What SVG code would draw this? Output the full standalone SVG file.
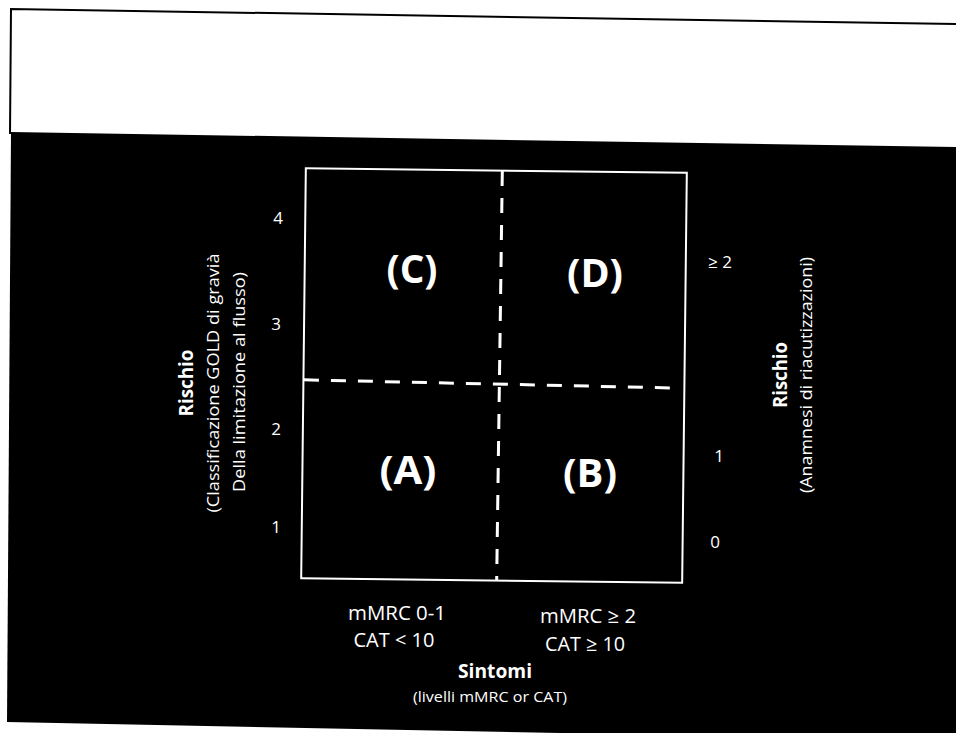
<svg xmlns="http://www.w3.org/2000/svg" width="956" height="733" viewBox="0 0 956 733">
<style>
.t{font-family:"Open Sans","Liberation Sans",sans-serif;fill:#fff}
.b{font-weight:bold}
.dash{stroke:#fff;stroke-width:3;fill:none;stroke-dasharray:15 12}
</style>
<rect width="956" height="733" fill="#fff"/>
<g id="page">
<polyline points="956,24 11,9 10,134" fill="none" stroke="#000" stroke-width="2"/>
<polygon points="11,132 956,147 956,733 560,733 7,722" fill="#000"/>
</g>
<g id="grid" transform="rotate(0.65 494 375.5)">
<rect id="box" x="303.5" y="170.5" width="381" height="410" fill="none" stroke="#fff" stroke-width="2"/>
<g id="connectors">
<line class="dash" x1="500" y1="171" x2="499" y2="580"/>
<line class="dash" x1="304" y1="382" x2="679" y2="386"/>
</g>
</g>
<g id="quadC"><text class="t b" x="412" y="283" font-size="40" text-anchor="middle" textLength="51" lengthAdjust="spacingAndGlyphs">(C)</text></g>
<g id="quadD"><text class="t b" x="595" y="287" font-size="40" text-anchor="middle" textLength="56" lengthAdjust="spacingAndGlyphs">(D)</text></g>
<g id="quadA"><text class="t b" x="408" y="484" font-size="40" text-anchor="middle" textLength="57" lengthAdjust="spacingAndGlyphs">(A)</text></g>
<g id="quadB"><text class="t b" x="590" y="487" font-size="40" text-anchor="middle" textLength="54" lengthAdjust="spacingAndGlyphs">(B)</text></g>
<g id="leftAxis">
<text class="t" x="278" y="224" font-size="17" text-anchor="middle">4</text>
<text class="t" x="276" y="330" font-size="17" text-anchor="middle">3</text>
<text class="t" x="276" y="435" font-size="17" text-anchor="middle">2</text>
<text class="t" x="276" y="533" font-size="17" text-anchor="middle">1</text>
<text class="t b" font-size="20" text-anchor="middle" textLength="67" lengthAdjust="spacingAndGlyphs" transform="translate(193,383) rotate(-90)">Rischio</text>
<text class="t" font-size="17" text-anchor="middle" textLength="259" lengthAdjust="spacingAndGlyphs" transform="translate(219,383) rotate(-90)">(Classificazione GOLD di gravià</text>
<text class="t" font-size="17" text-anchor="middle" textLength="220" lengthAdjust="spacingAndGlyphs" transform="translate(245,382) rotate(-90)">Della limitazione al flusso)</text>
</g>
<g id="rightAxis">
<text class="t" x="720" y="268" font-size="17" text-anchor="middle">≥ 2</text>
<text class="t" x="719" y="462" font-size="17" text-anchor="middle">1</text>
<text class="t" x="715" y="548" font-size="17" text-anchor="middle">0</text>
<text class="t b" font-size="20" text-anchor="middle" textLength="66" lengthAdjust="spacingAndGlyphs" transform="translate(787,375) rotate(-90)">Rischio</text>
<text class="t" font-size="17" text-anchor="middle" textLength="236" lengthAdjust="spacingAndGlyphs" transform="translate(812,375) rotate(-90)">(Anamnesi di riacutizzazioni)</text>
</g>
<g id="bottomAxis">
<text class="t" x="397" y="620" font-size="20" text-anchor="middle" textLength="98" lengthAdjust="spacingAndGlyphs">mMRC 0-1</text>
<text class="t" x="394" y="647" font-size="20" text-anchor="middle" textLength="81" lengthAdjust="spacingAndGlyphs">CAT &lt; 10</text>
<text class="t" x="588" y="623" font-size="20" text-anchor="middle" textLength="96" lengthAdjust="spacingAndGlyphs">mMRC ≥ 2</text>
<text class="t" x="585" y="651" font-size="20" text-anchor="middle" textLength="80" lengthAdjust="spacingAndGlyphs">CAT ≥ 10</text>
<text class="t b" x="495" y="678" font-size="20" text-anchor="middle" textLength="74" lengthAdjust="spacingAndGlyphs">Sintomi</text>
<text class="t" x="490" y="702" font-size="15" text-anchor="middle" textLength="154" lengthAdjust="spacingAndGlyphs">(livelli mMRC or CAT)</text>
</g>
</svg>
